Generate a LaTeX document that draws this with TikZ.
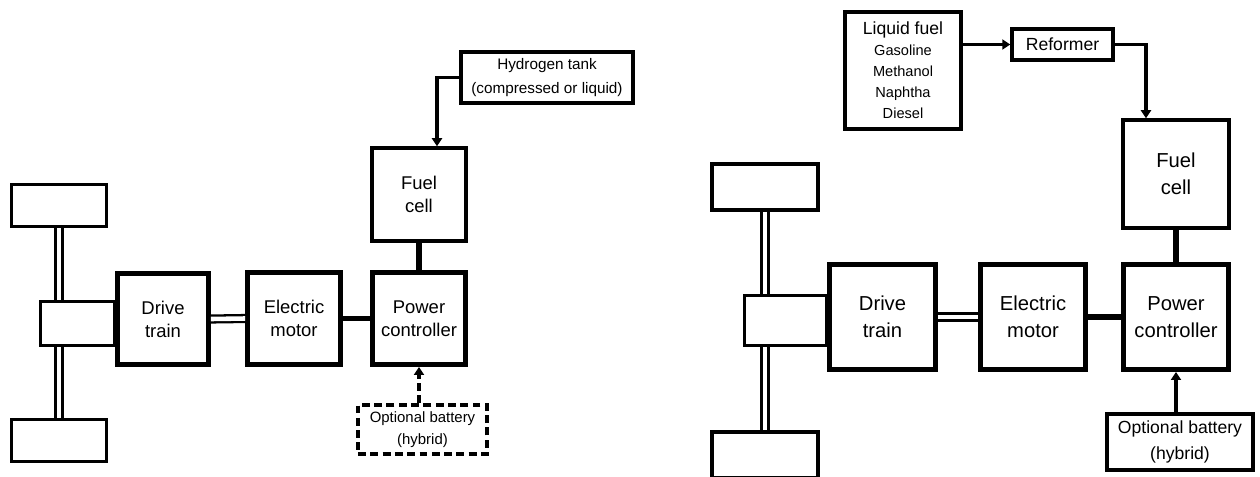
\documentclass[tikz,border=0pt]{standalone}
\usepackage{fontspec}
\setmainfont{Liberation Sans}
\usetikzlibrary{arrows.meta,calc}

\begin{document}
\begin{tikzpicture}[>={Triangle[length=1.6mm,width=2mm]},
  sz/.style 2 args={minimum width=#1cm,minimum height=#2cm},
  box/.style={draw,line width=2.8pt,fill=white,align=center,inner sep=1pt},
  midbox/.style={draw,line width=2pt,fill=white,align=center,inner sep=1pt},
  hubbox/.style={draw,line width=1.3pt,fill=white},
  shaft/.style={double,line width=1.3pt,double distance=2.6pt},
  link/.style={line width=3.2pt},
  feed/.style={line width=1.8pt,->},
  lft/.style={font=\fontsize{10.5}{13}\selectfont},
  rgt/.style={font=\fontsize{11.5}{15.5}\selectfont}]
  \useasboundingbox (0,0) rectangle (25.2,-9.52);
  % left: hydrogen fed
  \node[midbox,sz={1.9}{0.84}] (wheelTL) at (1.18,-4.11) {};
  \node[midbox,sz={1.9}{0.84}] (wheelBL) at (1.18,-8.81) {};
  \draw[shaft] (wheelTL.south) -- (wheelBL.north);
  \node[hubbox,sz={1.48}{0.88}] (hubL) at (1.55,-6.47) {};
  \node[box,lft,sz={1.82}{1.82}] (driveL) at (3.26,-6.38) {Drive\\train};
  \node[box,lft,sz={1.86}{1.84}] (motorL) at (5.88,-6.37) {Electric\\motor};
  \node[box,lft,sz={1.86}{1.84}] (ctrlL) at (8.38,-6.37) {Power\\controller};
  \node[midbox,lft,sz={1.88}{1.86}] (fuelL) at (8.38,-3.89) {Fuel\\cell};
  \node[midbox,font=\fontsize{8.7}{13.6}\selectfont,sz={3.44}{1.02}] (h2) at (10.94,-1.55) {Hydrogen tank\\(compressed or liquid)};
  \node[midbox,dash pattern=on 4.5pt off 2.5pt,font=\fontsize{8.5}{12.3}\selectfont,sz={2.58}{0.98}] (battL) at (8.45,-8.59) {Optional battery\\(hybrid)};
  \draw[shaft] (driveL.east) -- (motorL.west);
  \draw[link] (motorL.east) -- (ctrlL.west);
  \draw[link] (fuelL.south) -- (ctrlL.north);
  \draw[feed] (h2.west) -| ([xshift=0.36cm]fuelL.north);
  \draw[feed,dash pattern=on 4.5pt off 2.5pt] (ctrlL.south |- battL.north) -- (ctrlL.south);
  % right: liquid fuel with reformer
  \node[midbox,sz={2.12}{0.92}] (wheelTR) at (15.3,-3.74) {};
  \node[midbox,sz={2.12}{0.92}] (wheelBR) at (15.3,-9.1) {};
  \draw[shaft] (wheelTR.south) -- (wheelBR.north);
  \node[hubbox,sz={1.64}{1.0}] (hubR) at (15.71,-6.41) {};
  \node[box,rgt,sz={2.12}{2.1}] (driveR) at (17.65,-6.34) {Drive\\train};
  \node[box,rgt,sz={2.1}{2.1}] (motorR) at (20.66,-6.34) {Electric\\motor};
  \node[box,rgt,sz={2.1}{2.1}] (ctrlR) at (23.52,-6.34) {Power\\controller};
  \node[midbox,rgt,sz={2.12}{2.16}] (fuelR) at (23.52,-3.48) {Fuel\\cell};
  \node[midbox,font=\fontsize{8.3}{12}\selectfont,sz={2.32}{2.34}] (liquid) at (18.06,-1.41)
    {{\fontsize{10}{12}\selectfont Liquid fuel}\\Gasoline\\Methanol\\Naphtha\\Diesel};
  \node[midbox,font=\fontsize{10}{12}\selectfont,sz={2.02}{0.62}] (reformer) at (21.25,-0.89) {Reformer};
  \node[midbox,font=\fontsize{10}{15}\selectfont,sz={2.92}{1.12}] (battR) at (23.6,-8.84) {Optional battery\\(hybrid)};
  \draw[shaft] (driveR.east) -- (motorR.west);
  \draw[link] (motorR.east) -- (ctrlR.west);
  \draw[link] (fuelR.south) -- (ctrlR.north);
  \draw[feed] (liquid.east |- reformer.west) -- (reformer.west);
  \draw[feed] (reformer.east) -| ([xshift=-0.6cm]fuelR.north);
  \draw[feed] (ctrlR.south |- battR.north) -- (ctrlR.south);
\end{tikzpicture}
\end{document}
